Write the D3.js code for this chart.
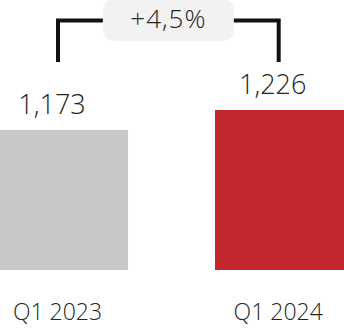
<!DOCTYPE html>
<html><head><meta charset="utf-8">
<script src="https://cdn.jsdelivr.net/npm/d3@7"></script>
<style>
html,body{margin:0;padding:0;background:#fff;overflow:hidden;}
text{font-family:"Open Sans","Noto Sans",sans-serif;fill:#252423;font-weight:350;}
</style></head>
<body><svg id="c" width="344" height="328"></svg>
<script>
const categories = ["Q1 2023", "Q1 2024"];
const values = [1173, 1226];
const valueLabels = ["1,173", "1,226"];
const changeLabel = "+4,5%";
const barColors = ["#c8c8c8", "#c1272d"];
const yMin = 800;

const svg = d3.select("#c");
// bars (cropped at both sides of the visual)
const x = d3.scaleBand().domain(categories).range([-12, 355]).paddingInner(0.383).paddingOuter(0);
// annotation/label centres
const xl = d3.scalePoint().domain(categories).range([58, 278.7]);
const y = d3.scaleLinear().domain([yMin, d3.max(values)]).range([270, 110]);

svg.selectAll("rect.bar").data(categories).join("rect")
  .attr("class","bar")
  .attr("x", d => x(d)).attr("width", x.bandwidth())
  .attr("y", (d,i) => y(values[i])).attr("height", (d,i) => y(yMin) - y(values[i]))
  .attr("fill", (d,i) => barColors[i]);

svg.selectAll("text.val").data(categories).join("text")
  .attr("class","val")
  .attr("x", d => xl(d) - 6).attr("y", (d,i) => y(values[i]) - 16)
  .attr("text-anchor","middle").attr("font-size", 27)
  .text((d,i) => valueLabels[i]);

const xAxis = d3.axisBottom(xl).tickSize(0).tickPadding(0);
const ax = svg.append("g").attr("transform","translate(-1,300)").call(xAxis);
ax.select(".domain").remove();
ax.selectAll("text").attr("font-size", 23).attr("dy", "0.85em")
  .style("font-family", '"Open Sans","Noto Sans",sans-serif').style("fill", "#252423").style("font-weight", 350);

// bracket
const x0 = xl(categories[0]), x1 = xl(categories[1]);
const topY = 20.5, legEnd = 62;
svg.append("path")
  .attr("d", `M${x0},${legEnd}V${topY}H${x1}V${legEnd}`)
  .attr("fill","none").attr("stroke","#111").attr("stroke-width",4);

const mid = (x0 + x1) / 2;
svg.append("rect").attr("x", mid - 65.5).attr("y", -1).attr("width", 131).attr("height", 42)
  .attr("rx", 11).attr("fill", "#f3f2f3");
svg.append("text").attr("x", mid).attr("y", 27.5).attr("text-anchor","middle")
  .attr("font-size", 26).attr("letter-spacing", 1).text(changeLabel);
</script></body></html>
